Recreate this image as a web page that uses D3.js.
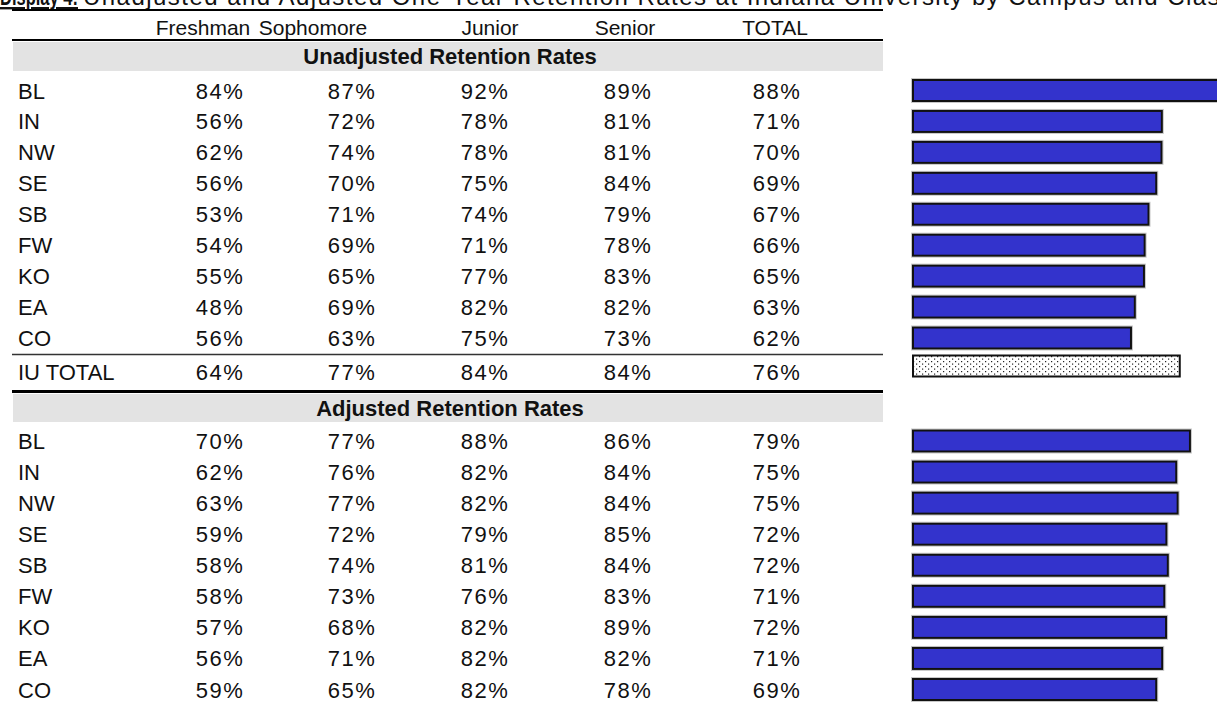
<!DOCTYPE html>
<html lang="en">
<head>
  <meta charset="UTF-8">
  <title>Display 4: Retention Rates</title>
  <script src="https://d3js.org/d3.v7.min.js"></script>
  <style>
    body { margin: 0; background: #fff; }
    svg text { font-family: "Liberation Sans", Arial, sans-serif; fill: #111; }
  </style>
</head>
<body>
  <svg width="1217" height="702"></svg>

  <script>
    const campuses = ["BL", "IN", "NW", "SE", "SB", "FW", "KO", "EA", "CO"];
    const classes = ["Freshman", "Sophomore", "Junior", "Senior", "TOTAL"];

    // unadjusted retention rates (%)
    const unadjFreshman  = [84, 56, 62, 56, 53, 54, 55, 48, 56];
    const unadjSophomore = [87, 72, 74, 70, 71, 69, 65, 69, 63];
    const unadjJunior    = [92, 78, 78, 75, 74, 71, 77, 82, 75];
    const unadjSenior    = [89, 81, 81, 84, 79, 78, 83, 82, 73];
    const unadjTotal     = [88, 71, 70, 69, 67, 66, 65, 63, 62];
    const iuTotal        = [64, 77, 84, 84, 76];

    // adjusted retention rates (%)
    const adjFreshman  = [70, 62, 63, 59, 58, 58, 57, 56, 59];
    const adjSophomore = [77, 76, 77, 72, 74, 73, 68, 71, 65];
    const adjJunior    = [88, 82, 82, 79, 81, 76, 82, 82, 82];
    const adjSenior    = [86, 84, 84, 85, 84, 83, 89, 82, 78];
    const adjTotal     = [79, 75, 75, 72, 72, 71, 72, 71, 69];

    // bar lengths (unrounded totals)
    const unadjBars  = [88.0, 70.9, 70.8, 69.3, 67.1, 66.0, 65.8, 63.2, 62.1];
    const iuTotalBar = 76.0;
    const adjBars    = [78.9, 75.0, 75.4, 72.2, 72.6, 71.6, 72.1, 71.0, 69.3];

    const svg = d3.select("svg");
    const tableLeft = 12, tableRight = 883;

    // column positions (text centres)
    const headX = d3.scaleOrdinal().domain(classes).range([203, 313, 490, 625, 775]);
    const valX  = d3.scaleOrdinal().domain(classes).range([219, 351, 484, 627, 776]);

    const yUnadj = d3.scalePoint().domain(campuses).range([90.5, 338]);
    const yAdj   = d3.scalePoint().domain(campuses).range([441, 689.5]);
    const yIU = 372, yIUBar = 366;

    const barX = d3.scaleLinear().domain([0, 100]).range([913, 913 + 351]);
    const barH = 21;

    // dotted pattern for the IU total bar
    const pat = svg.append("defs").append("pattern")
      .attr("id", "dots")
      .attr("patternUnits", "userSpaceOnUse")
      .attr("width", 6).attr("height", 5);
    pat.append("rect").attr("width", 6).attr("height", 5).attr("fill", "#fff");
    pat.append("rect").attr("x", 1).attr("y", 1).attr("width", 1.2).attr("height", 1.2).attr("fill", "#222");
    pat.append("rect").attr("x", 4).attr("y", 3.5).attr("width", 1.2).attr("height", 1.2).attr("fill", "#222");

    // title (top is cut off in the original)
    svg.append("text")
      .attr("x", 0).attr("y", 5)
      .style("font-size", "24px").style("font-weight", "bold")
      .style("text-decoration", "underline")
      .attr("textLength", 78).attr("lengthAdjust", "spacingAndGlyphs")
      .text("Display 4:");
    svg.append("text")
      .attr("x", 83).attr("y", 5)
      .style("font-size", "24px")
      .attr("textLength", 1150).attr("lengthAdjust", "spacing")
      .text("Unadjusted and Adjusted One-Year Retention Rates at Indiana University by Campus and Class");

    // grey section bands
    svg.append("rect").attr("x", tableLeft + 1).attr("y", 42)
      .attr("width", tableRight - tableLeft - 1).attr("height", 29).attr("fill", "#e3e3e3");
    svg.append("rect").attr("x", tableLeft + 1).attr("y", 394)
      .attr("width", tableRight - tableLeft - 1).attr("height", 28).attr("fill", "#e3e3e3");

    // rules
    const rule = (y, w, c) => svg.append("line")
      .attr("x1", tableLeft).attr("x2", tableRight)
      .attr("y1", y).attr("y2", y)
      .attr("stroke", c || "#000").attr("stroke-width", w);
    rule(10, 2);
    rule(40, 2);
    rule(354.5, 1.5, "#333");
    rule(391.5, 3);

    // column headers
    svg.selectAll(".head")
      .data(classes)
      .enter().append("text")
      .attr("class", "head")
      .attr("x", d => headX(d)).attr("y", 35)
      .attr("text-anchor", "middle")
      .style("font-size", "21px")
      .text(d => d);

    svg.append("text")
      .attr("x", 450).attr("y", 64)
      .attr("text-anchor", "middle")
      .style("font-size", "22px").style("font-weight", "bold")
      .text("Unadjusted Retention Rates");
    svg.append("text")
      .attr("x", 450).attr("y", 416)
      .attr("text-anchor", "middle")
      .style("font-size", "22px").style("font-weight", "bold")
      .text("Adjusted Retention Rates");

    function valueText(sel) {
      return sel
        .attr("text-anchor", "middle")
        .style("font-size", "22px")
        .style("letter-spacing", "1.5px")
        .text(v => v + "%");
    }

    function drawSection(y, cols, bars, cls) {
      const rows = campuses.map((c, i) => ({
        campus: c,
        values: cols.map(col => col[i]),
        bar: bars[i]
      }));

      const g = svg.append("g").attr("class", cls);

      g.selectAll(".label")
        .data(rows)
        .enter().append("text")
        .attr("x", 18).attr("y", d => y(d.campus) + 8)
        .style("font-size", "22px")
        .text(d => d.campus);

      rows.forEach(r => {
        g.selectAll(null)
          .data(r.values)
          .enter().append("text")
          .attr("x", (v, j) => valX(classes[j]) + 1)
          .attr("y", y(r.campus) + 8)
          .call(valueText);
      });

      g.selectAll(".halo")
        .data(rows)
        .enter().append("rect")
        .attr("x", barX(0) - 1.5).attr("y", d => y(d.campus) - barH / 2 - 1.5)
        .attr("width", d => barX(d.bar) - barX(0) + 3).attr("height", barH + 3)
        .attr("fill", "none").attr("stroke", "#c8c8c8").attr("stroke-width", 1);

      g.selectAll(".bar")
        .data(rows)
        .enter().append("rect")
        .attr("x", barX(0)).attr("y", d => y(d.campus) - barH / 2)
        .attr("width", d => barX(d.bar) - barX(0)).attr("height", barH)
        .attr("fill", "#3333cc").attr("stroke", "#111").attr("stroke-width", 2);
    }

    drawSection(yUnadj, [unadjFreshman, unadjSophomore, unadjJunior, unadjSenior, unadjTotal], unadjBars, "unadjusted");

    // IU total row
    svg.append("text")
      .attr("x", 18).attr("y", yIU + 8)
      .style("font-size", "22px")
      .text("IU TOTAL");
    svg.selectAll(".iu")
      .data(iuTotal)
      .enter().append("text")
      .attr("class", "iu")
      .attr("x", (v, j) => valX(classes[j]) + 1).attr("y", yIU + 8)
      .call(valueText);
    svg.append("rect")
      .attr("x", barX(0)).attr("y", yIUBar - barH / 2)
      .attr("width", barX(iuTotalBar) - barX(0)).attr("height", barH)
      .attr("fill", "url(#dots)").attr("stroke", "#111").attr("stroke-width", 2);

    drawSection(yAdj, [adjFreshman, adjSophomore, adjJunior, adjSenior, adjTotal], adjBars, "adjusted");
  </script>
</body>
</html>
